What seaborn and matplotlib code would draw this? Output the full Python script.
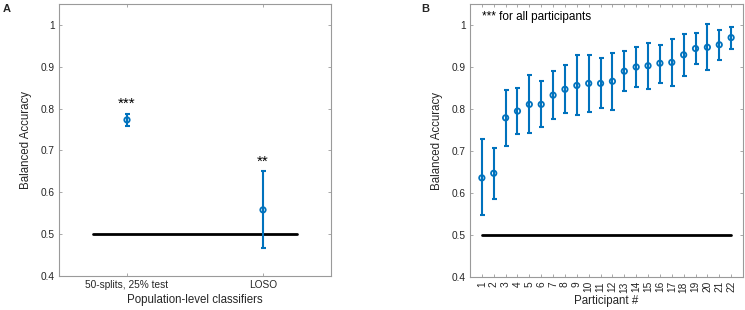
import matplotlib
matplotlib.use("Agg")
import matplotlib.pyplot as plt
import seaborn as sns
import numpy as np
import pandas as pd

# ---- data ----
pop_classifiers = ["50-splits, 25% test", "LOSO"]
pop_mean = [0.773, 0.558]
pop_low = [0.758, 0.467]
pop_high = [0.787, 0.650]
pop_stars = ["***", "**"]

participants = list(range(1, 23))
part_mean = [0.636, 0.647, 0.779, 0.795, 0.811, 0.811, 0.833, 0.847, 0.856, 0.861, 0.861,
             0.866, 0.890, 0.900, 0.903, 0.909, 0.911, 0.929, 0.944, 0.947, 0.953, 0.970]
part_low = [0.547, 0.586, 0.713, 0.740, 0.742, 0.756, 0.777, 0.790, 0.785, 0.794, 0.802,
            0.798, 0.842, 0.852, 0.848, 0.863, 0.855, 0.879, 0.908, 0.894, 0.917, 0.944]
part_high = [0.729, 0.708, 0.845, 0.849, 0.881, 0.867, 0.890, 0.905, 0.929, 0.929, 0.921,
             0.933, 0.939, 0.948, 0.957, 0.953, 0.967, 0.979, 0.981, 1.002, 0.989, 0.995]
chance = 0.5

sns.set_theme(style="ticks")
plt.rcParams['font.family'] = ['Liberation Sans', 'DejaVu Sans']

BLUE = "#0072BD"
TXT = "#262626"
SPINE = "#9a9a9a"

fig = plt.figure(figsize=(7.45, 3.10), dpi=100)
axA = fig.add_axes([59/745, 1-276/310, (331-59)/745, (276-4)/310])
axB = fig.add_axes([470/745, 1-277/310, (743-470)/745, (277-4)/310])


def style(ax):
    for s in ax.spines.values():
        s.set_visible(True)
        s.set_color(SPINE)
        s.set_linewidth(0.8)
    ax.tick_params(direction="in", length=2.5, width=0.6, color=SPINE,
                   top=True, right=True, labelsize=7.3, labelcolor=TXT, pad=3)
    ax.set_ylim(0.4, 1.05)
    ax.set_yticks([0.4, 0.5, 0.6, 0.7, 0.8, 0.9, 1.0])
    ax.set_yticklabels(["0.4", "0.5", "0.6", "0.7", "0.8", "0.9", "1"])
    ax.set_ylabel("Balanced Accuracy", fontsize=8.3, color=TXT, labelpad=6)


# ---- Panel A ----
dfA = pd.DataFrame({"x": [1, 2], "y": pop_mean})
sns.lineplot(x=[0.75, 2.25], y=[chance, chance], color="black", lw=2, ax=axA)
axA.errorbar(dfA["x"], dfA["y"],
             yerr=[np.array(pop_mean) - np.array(pop_low), np.array(pop_high) - np.array(pop_mean)],
             fmt="none", ecolor=BLUE, elinewidth=1.5, capsize=1.8, capthick=1.5)
sns.scatterplot(data=dfA, x="x", y="y", ax=axA, marker="o", s=15,
                facecolor="none", edgecolor=BLUE, linewidth=1.3, zorder=5)
star_y = [0.812, 0.672]
for xi, sy, st in zip([1, 2], star_y, pop_stars):
    axA.text(xi, sy, st, ha="center", va="center", fontsize=11, color="black")
axA.set_xlim(0.5, 2.5)
axA.set_xticks([1, 2])
axA.set_xticklabels(pop_classifiers)
axA.set_xlabel("Population-level classifiers", fontsize=8.3, color=TXT, labelpad=3)
style(axA)

# ---- Panel B ----
dfB = pd.DataFrame({"x": participants, "y": part_mean})
sns.lineplot(x=[participants[0], participants[-1]], y=[chance, chance], color="black", lw=2, ax=axB)
axB.errorbar(dfB["x"], dfB["y"],
             yerr=[np.array(part_mean) - np.array(part_low), np.array(part_high) - np.array(part_mean)],
             fmt="none", ecolor=BLUE, elinewidth=1.5, capsize=1.8, capthick=1.5)
sns.scatterplot(data=dfB, x="x", y="y", ax=axB, marker="o", s=15,
                facecolor="none", edgecolor=BLUE, linewidth=1.3, zorder=5)
axB.text(1.0, 1.02, "*** for all participants", ha="left", va="center",
         fontsize=8.5, color="black")
axB.set_xlim(0, 23)
axB.set_xticks(participants)
axB.set_xticklabels([str(p) for p in participants], rotation=90)
axB.set_xlabel("Participant #", fontsize=8.3, color=TXT, labelpad=2)
style(axB)

fig.text(3/745, 1-9/310, "A", fontsize=8, fontweight="bold", ha="left", va="center")
fig.text(421/745, 1-9/310, "B", fontsize=8, fontweight="bold", ha="left", va="center")

fig.savefig("out.png", dpi=100)
